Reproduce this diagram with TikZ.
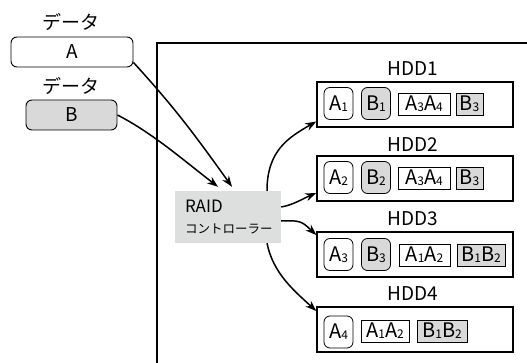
\documentclass[tikz,border=0pt]{standalone}
\usepackage{fontspec}
\setmainfont{Noto Sans CJK JP}
\usetikzlibrary{arrows.meta}
\definecolor{boxgray}{RGB}{217,217,217}
\definecolor{raidgray}{RGB}{221,223,222}
\newcommand\sbs[1]{\raisebox{-0.8pt}{\fontsize{12}{12}\selectfont #1}}
\begin{document}
\begin{tikzpicture}[x=1pt,y=-1pt,
 lbl/.style={font=\fontsize{19}{19}\selectfont, inner sep=0},
 databox/.style={draw, line width=0.9pt, rounded corners=6pt, minimum height=30pt, inner sep=0, font=\fontsize{19}{19}\selectfont},
 hdd/.style={draw, line width=1.4pt, minimum width=196pt, minimum height=45pt, inner sep=0},
 rbox/.style={draw, line width=0.8pt, rounded corners=6pt, minimum width=29pt, minimum height=32pt, inner sep=0, font=\fontsize{20}{20}\selectfont},
 sbox/.style={draw, line width=0.7pt, minimum height=22pt, inner sep=0, font=\fontsize{20}{20}\selectfont},
 raidbox/.style={fill=raidgray, minimum width=106pt, minimum height=52pt, inner sep=0, align=left, text width=86pt, font=\fontsize{12.5}{21}\selectfont},
 arr/.style={line width=1.5pt, -{Stealth[length=11pt,width=8pt]}},
]
\useasboundingbox (0,0) rectangle (527,363);
% frame
\draw[line width=1.5pt] (157,363) -- (157,43) -- (527,43);
% data
\node[lbl] (d1) at (71,22) {データ};
\node[databox, minimum width=122pt] (A) at (72,52) {A};
\node[lbl] (d2) at (71,86) {データ};
\node[databox, fill=boxgray, minimum width=91pt] (B) at (71.5,115) {B};
% raid
\node[raidbox] (raid) at (228,217) {{\fontsize{17}{21}\selectfont RAID}\\コントローラー};
% hdds
\node[hdd] (hdd1) at (415,104.5) {};
\node[hdd] (hdd2) at (415,178.5) {};
\node[hdd] (hdd3) at (415,254.5) {};
\node[hdd] (hdd4) at (415,329.5) {};
\node[lbl] (l1) at (413,69) {HDD1};
\node[lbl] (l2) at (413,145) {HDD2};
\node[lbl] (l3) at (413,219) {HDD3};
\node[lbl] (l4) at (413,294) {HDD4};
% HDD1 contents
\node[rbox] (a11) at (338.5,103.5) {A\sbs{1}};
\node[rbox, fill=boxgray] (b11) at (376,103.5) {B\sbs{1}};
\node[sbox, minimum width=52pt] (c11) at (424,104) {A\sbs{3}A\sbs{4}};
\node[sbox, fill=boxgray, minimum width=27pt] (d11) at (469.5,104) {B\sbs{3}};
% HDD2 contents
\node[rbox] (a21) at (338.5,177.5) {A\sbs{2}};
\node[rbox, fill=boxgray] (b21) at (376,177.5) {B\sbs{2}};
\node[sbox, minimum width=52pt] (c21) at (424,178) {A\sbs{3}A\sbs{4}};
\node[sbox, fill=boxgray, minimum width=27pt] (d21) at (469.5,178) {B\sbs{3}};
% HDD3 contents
\node[rbox] (a31) at (338.5,254.5) {A\sbs{3}};
\node[rbox, fill=boxgray] (b31) at (376,254.5) {B\sbs{3}};
\node[sbox, minimum width=51pt] (c31) at (424.5,255) {A\sbs{1}A\sbs{2}};
\node[sbox, fill=boxgray, minimum width=48pt] (d31) at (481,255) {B\sbs{1}B\sbs{2}};
% HDD4 contents
\node[rbox] (a41) at (338.5,332) {A\sbs{4}};
\node[sbox, minimum width=48pt] (c41) at (385,331) {A\sbs{1}A\sbs{2}};
\node[sbox, fill=boxgray, minimum width=50pt] (d41) at (442,331) {B\sbs{1}B\sbs{2}};
% arrows
\draw[arr] ([yshift=5pt]A.south east) .. controls +(40,44) and +(-40,-56) .. ([xshift=4pt,yshift=4pt]raid.north);
\draw[arr] (B.east) .. controls +(35,18) and +(-35,-27) .. ([xshift=-10pt,yshift=4pt]raid.north);
\draw[arr] ([xshift=39pt]raid.north) .. controls +(0,-40) and +(-28,16) .. ([yshift=-17pt]hdd1.west);
\draw[arr] ([yshift=10pt]raid.east) .. controls +(12,-2) and +(-12,5) .. ([yshift=-14.5pt]hdd2.west);
\draw[arr] ([yshift=-4pt]raid.east) .. controls +(20,-1) and +(-14,-13) .. ([yshift=19.5pt]hdd3.west);
\draw[arr] ([xshift=39pt]raid.south) .. controls +(6,30) and +(-22,-20) .. ([yshift=18.5pt]hdd4.west);
\end{tikzpicture}
\end{document}
